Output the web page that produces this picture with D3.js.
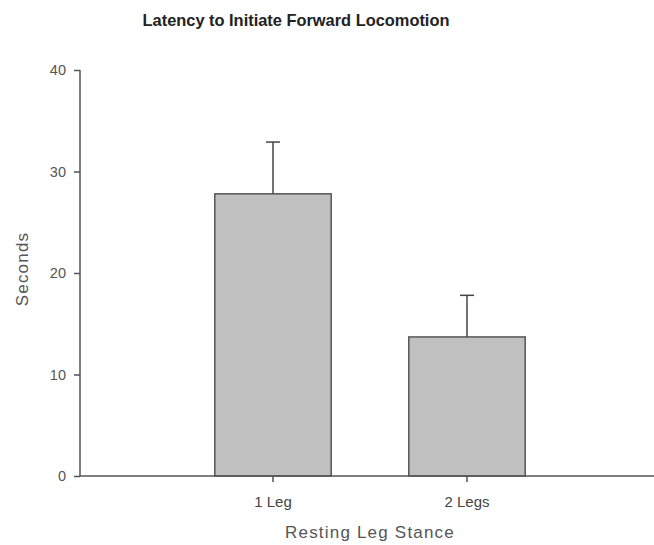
<!DOCTYPE html>
<html>
<head>
<meta charset="utf-8">
<script src="https://cdn.jsdelivr.net/npm/d3@7"></script>
<style>
  body { margin: 0; background: #fff; }
  text { font-family: "Liberation Sans", Arial, sans-serif; }
</style>
</head>
<body>
<div id="chart"></div>
<script>
const categories = ["1 Leg", "2 Legs"];
const means = [27.8, 13.7];
const errors = [5.1, 4.1];
const yTicks = [0, 10, 20, 30, 40];

const width = 654, height = 545;
const axisColor = "#555";

const svg = d3.select("#chart").append("svg")
  .attr("width", width)
  .attr("height", height);

const x = d3.scaleBand()
  .domain(categories)
  .range([176, 564])
  .paddingInner(0.4)
  .paddingOuter(0.2);

const y = d3.scaleLinear()
  .domain([0, 40])
  .range([476, 70]);

// title
svg.append("text")
  .attr("x", 296)
  .attr("y", 26)
  .attr("text-anchor", "middle")
  .style("font-weight", "bold")
  .style("font-size", "16.4px")
  .attr("fill", "#222")
  .text("Latency to Initiate Forward Locomotion");

// bars
svg.selectAll("rect.bar")
  .data(categories)
  .enter()
  .append("rect")
  .attr("class", "bar")
  .attr("x", d => x(d))
  .attr("width", x.bandwidth())
  .attr("y", (d, i) => y(means[i]))
  .attr("height", (d, i) => y(0) - y(means[i]))
  .attr("fill", "#c0c0c0")
  .attr("stroke", "#555")
  .attr("stroke-width", 1.5);

// error bars (upper only)
const err = svg.selectAll("g.err")
  .data(categories)
  .enter()
  .append("g")
  .attr("class", "err")
  .attr("stroke", "#444")
  .attr("stroke-width", 1.5);

err.append("line")
  .attr("x1", d => x(d) + x.bandwidth() / 2)
  .attr("x2", d => x(d) + x.bandwidth() / 2)
  .attr("y1", (d, i) => y(means[i]))
  .attr("y2", (d, i) => y(means[i] + errors[i]));

err.append("line")
  .attr("x1", d => x(d) + x.bandwidth() / 2 - 7)
  .attr("x2", d => x(d) + x.bandwidth() / 2 + 7)
  .attr("y1", (d, i) => y(means[i] + errors[i]))
  .attr("y2", (d, i) => y(means[i] + errors[i]));

// y axis
const yAxis = svg.append("g")
  .attr("transform", "translate(80,0)")
  .call(d3.axisLeft(y).tickValues(yTicks).tickSize(6).tickPadding(8));

yAxis.select(".domain").attr("stroke", axisColor).attr("stroke-width", 1.5)
  .attr("d", "M0," + y(40) + "V" + y(0));
yAxis.selectAll(".tick line").attr("stroke", axisColor).attr("stroke-width", 1.5);
yAxis.selectAll(".tick text")
  .attr("fill", "#555")
  .style("font-size", "14.5px");

// x axis
const xAxis = svg.append("g")
  .attr("transform", "translate(0," + y(0) + ")")
  .call(d3.axisBottom(x).tickSize(6).tickPadding(14));

xAxis.select(".domain").attr("stroke", axisColor).attr("stroke-width", 1.5)
  .attr("d", "M80,0H654");
xAxis.selectAll(".tick line").attr("stroke", axisColor).attr("stroke-width", 1.5);
xAxis.selectAll(".tick text")
  .attr("fill", "#444")
  .style("font-size", "15px");

// axis titles
svg.append("text")
  .attr("x", 370)
  .attr("y", 538)
  .attr("text-anchor", "middle")
  .attr("fill", "#555")
  .style("font-size", "17px")
  .style("letter-spacing", "1.2px")
  .text("Resting Leg Stance");

svg.append("text")
  .attr("transform", "translate(28,269) rotate(-90)")
  .attr("text-anchor", "middle")
  .attr("fill", "#555")
  .style("font-size", "17px")
  .style("letter-spacing", "1.2px")
  .text("Seconds");
</script>
</body>
</html>
